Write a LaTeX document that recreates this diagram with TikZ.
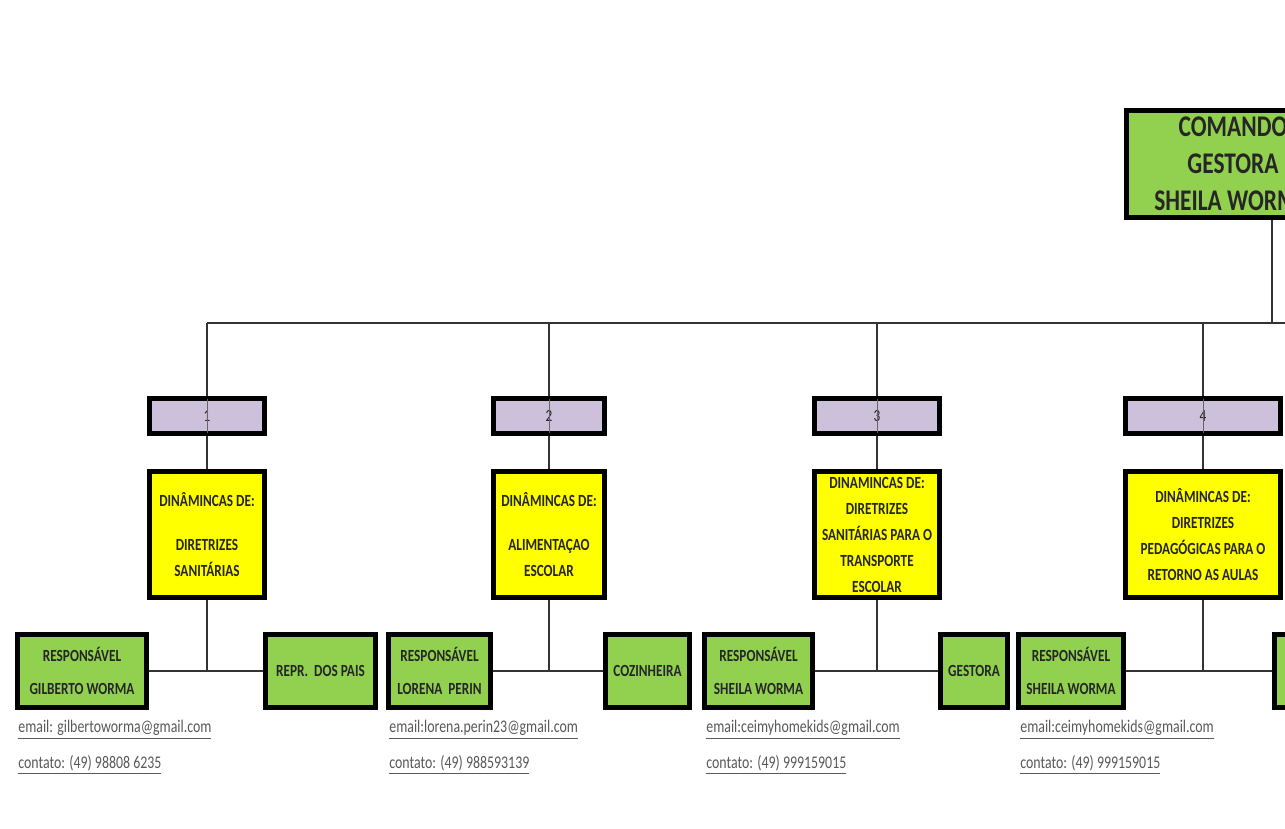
\documentclass[tikz,border=0pt]{standalone}
\usepackage{fontspec}
\setmainfont{Carlito}[FakeStretch=0.78]
\definecolor{verde}{HTML}{92D050}
\definecolor{amarelo}{HTML}{FFFF00}
\definecolor{lilas}{HTML}{CCC0DA}
\definecolor{cinza}{HTML}{595959}
\tikzset{
  caixa/.style={draw=black, line width=2.4pt, inner sep=1pt, align=center, text=black!85},
  numero/.style={caixa, fill=lilas, minimum height=17.6pt, font=\fontsize{8.5}{9}\selectfont},
  dinamica/.style={caixa, fill=amarelo, minimum height=63pt, font=\bfseries\fontsize{8.5}{13}\selectfont},
  pessoa/.style={caixa, fill=verde, minimum height=36.6pt, font=\bfseries\fontsize{8.5}{16.5}\selectfont},
  contato/.style={anchor=west, inner sep=0pt, text=cinza, font=\fontsize{8.9}{10}\selectfont},
  ligacao/.style={draw=black!80, line width=0.7pt}
}
\begin{document}
\begin{tikzpicture}[x=0.5pt,y=-0.5pt]
  \useasboundingbox (0,0) rectangle (1285,829);
  \clip (0,0) rectangle (1285,829);
  \fill[white] (0,0) rectangle (1285,829);

  % topo
  \node[caixa, fill=verde, minimum width=106.5pt, minimum height=53.5pt,
        font=\bfseries\fontsize{15}{18.5}\selectfont] (comando) at (1233,164) {COMANDO\\GESTORA\\SHEILA WORMA};

  \coordinate (hub) at (1272,323);
  \coordinate (fim) at (1300,323);

  % numeros
  \node[numero, minimum width=57.5pt] (n1) at (207,416) {1};
  \node[numero, minimum width=55.5pt] (n2) at (549,416) {2};
  \node[numero, minimum width=62.5pt] (n3) at (877,416) {3};
  \node[numero, minimum width=77.5pt] (n4) at (1203,416) {4};

  % dinamicas
  \node[dinamica, minimum width=57.5pt] (din1) at (207,534.5) {DINÂMINCAS DE:\\[9pt]DIRETRIZES\\SANITÁRIAS};
  \node[dinamica, minimum width=55.5pt] (din2) at (549,534.5) {DINÂMINCAS DE:\\[9pt]ALIMENTAÇAO\\ESCOLAR};
  \node[dinamica, minimum width=62.5pt] (din3) at (877,534.5) {DINAMINCAS DE:\\DIRETRIZES\\SANITÁRIAS PARA O\\TRANSPORTE\\ESCOLAR};
  \node[dinamica, minimum width=77.5pt] (din4) at (1203,534.5) {DINÂMINCAS DE:\\DIRETRIZES\\PEDAGÓGICAS PARA O\\RETORNO AS AULAS};

  % responsaveis
  \node[pessoa, minimum width=64.6pt] (resp1) at (82,671) {RESPONSÁVEL\\GILBERTO WORMA};
  \node[pessoa, minimum width=55.1pt] (aux1) at (320.5,671) {REPR.~~DOS PAIS};
  \node[pessoa, minimum width=51.1pt] (resp2) at (439.5,671) {RESPONSÁVEL\\LORENA~~PERIN};
  \node[pessoa, minimum width=42.1pt] (aux2) at (647.5,671) {COZINHEIRA};
  \node[pessoa, minimum width=54.1pt] (resp3) at (758.5,671) {RESPONSÁVEL\\SHEILA WORMA};
  \node[pessoa, minimum width=33.6pt] (aux3) at (974,671) {GESTORA};
  \node[pessoa, minimum width=52.6pt] (resp4) at (1071,671) {RESPONSÁVEL\\SHEILA WORMA};
  \node[pessoa, minimum width=47.6pt] (aux4) at (1322,671) {GESTORA};

  % contatos
  \node[contato] (mail1) at (18,730) {\underline{email: gilbertoworma@gmail.com}};
  \node[contato] (tel1) at (18,765) {\underline{contato: (49) 98808 6235}};
  \node[contato] (mail2) at (389,730) {\underline{email:lorena.perin23@gmail.com}};
  \node[contato] (tel2) at (389,765) {\underline{contato: (49) 988593139}};
  \node[contato] (mail3) at (706,730) {\underline{email:ceimyhomekids@gmail.com}};
  \node[contato] (tel3) at (706,765) {\underline{contato: (49) 999159015}};
  \node[contato] (mail4) at (1020,730) {\underline{email:ceimyhomekids@gmail.com}};
  \node[contato] (tel4) at (1020,765) {\underline{contato: (49) 999159015}};

  % ligacoes
  \draw[ligacao] (hub |- comando.south) -- (hub);
  \draw[ligacao] (n1.north |- hub) -- (fim);
  \foreach \i in {1,...,4}{
    \draw[ligacao] (n\i.north |- hub) -- (n\i.north);
    \draw[ligacao] (n\i.south) -- (din\i.north);
    \draw[draw=black!60, line width=0.5pt] ([yshift=-1.3pt]n\i.north) -- ([yshift=1.3pt]n\i.south);
    \draw[ligacao] (resp\i.east) -- (aux\i.west);
    \draw[ligacao] (din\i.south) -- (din\i.south |- resp\i.east);
  }
\end{tikzpicture}
\end{document}
